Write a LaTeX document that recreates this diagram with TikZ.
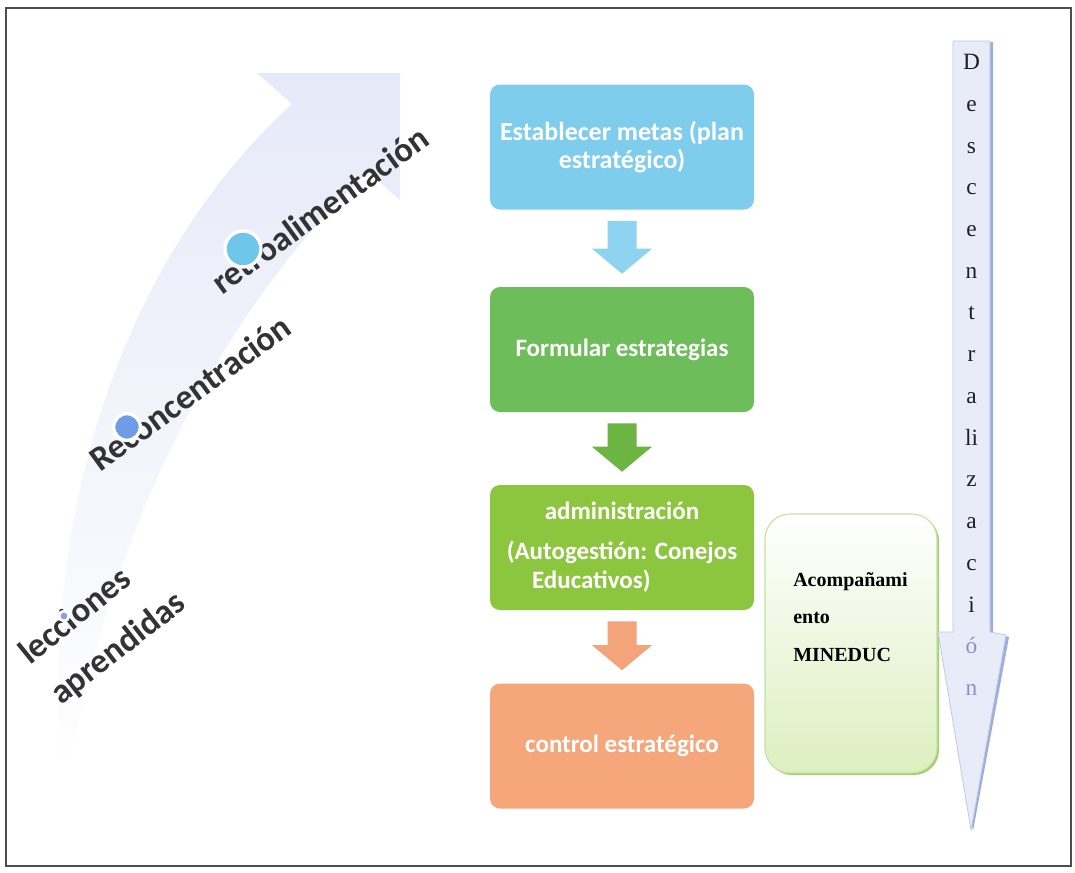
\documentclass[tikz,border=0pt]{standalone}
\usepackage{fontspec}
\setmainfont{Liberation Serif}
\newfontfamily\calfont{Carlito}
\usetikzlibrary{calc}
\definecolor{lav}{HTML}{E6E9F8}
\definecolor{retroc}{HTML}{6EC6EA}
\definecolor{reconc}{HTML}{6F9CE6}
\definecolor{leccc}{HTML}{8C9FE0}
\definecolor{cA}{HTML}{7ECDEC}
\definecolor{aA}{HTML}{8ED3EF}
\definecolor{cB}{HTML}{6DBD5A}
\definecolor{aB}{HTML}{6CB543}
\definecolor{cC}{HTML}{8CC63F}
\definecolor{aC}{HTML}{F4A47B}
\definecolor{cD}{HTML}{F5A77B}
\definecolor{acgreen}{HTML}{DDEFC0}
\definecolor{acborder}{HTML}{C2E29E}
\definecolor{acshadow}{HTML}{A2CE72}
\definecolor{dfill}{HTML}{E8ECF9}
\definecolor{dedge}{HTML}{BFC8E6}
\definecolor{dshadow}{HTML}{9DAEDC}
\definecolor{dletter}{HTML}{8593C6}
\definecolor{framec}{HTML}{4D4D4D}
\tikzset{
  lbl/.style={font=\calfont\bfseries\fontsize{26}{30}\selectfont, text=black!80, inner sep=0pt, anchor=base west},
  dot/.style={circle, draw=white, line width=2.5pt, inner sep=0pt},
  fbox/.style={rounded corners=7.5pt, minimum width=198pt, minimum height=93.75pt, text=white, align=center,
    font=\calfont\bfseries\fontsize{18.75}{21.75}\selectfont, inner sep=0pt},
}
\newcommand\flowarrow[3]{%
  \coordinate (#2s) at ($(#2.south)+(0,11)$);
  \coordinate (#2e) at ($(#3.north)+(0,-13)$);
  \fill[#1] ($(#2s)+(-14.5,0)$) -- ($(#2s)+(14.5,0)$) -- ($(#2e)+(14.5,-25)$) -- ($(#2e)+(30,-25)$)
    -- (#2e) -- ($(#2e)+(-30,-25)$) -- ($(#2e)+(-14.5,-25)$) -- cycle;}
\begin{document}
\begin{tikzpicture}[x=0.75pt,y=-0.75pt]
\useasboundingbox (0,0) rectangle (1075,872);
\fill[white] (0,0) rectangle (1075,872);

% curved wide arrow
\shade[top color=lav, middle color=lav!85!white, bottom color=white]
  (62,775) .. controls (40,540) and (110,270) .. (292,104) -- (257,73) -- (400,73) -- (400,200)
  -- (368,172) .. controls (230,300) and (110,520) .. (68,775) -- cycle;

% labels on the curve
\node[lbl, rotate=36] (t1) at (222,296) {retroalimentación};
\node[lbl, rotate=36] (t2) at (100,473) {Reconcentración};
\node[lbl, rotate=39] (t3) at (30,666) {lecciones};
\node[lbl, rotate=38] (t4) at (61,706) {aprendidas};

% dots
\node[dot, fill=retroc, minimum size=27pt] (d1) at (243,249) {};
\node[dot, fill=reconc, minimum size=20pt] (d2) at (127,427) {};
\node[dot, fill=leccc, minimum size=7.5pt, line width=2pt] (d3) at (64,616) {};

% flowchart
\node[fbox, fill=cA, font=\calfont\bfseries\fontsize{19.5}{21.4}\selectfont] (b1) at (622,147) {Establecer metas (plan\\estratégico)};
\node[fbox, fill=cB] (b2) at (622,349.5) {Formular estrategias};
\node[fbox, fill=cC] (b3) at (622,547.5) {administración\\[8.25pt](Autogestión: Conejos\\Educativos)\hspace*{46pt}};
\node[fbox, fill=cD] (b4) at (622,746) {control estratégico};
\flowarrow{aA}{b1}{b2}
\flowarrow{aB}{b2}{b3}
\flowarrow{aC}{b3}{b4}

% Acompanamiento box
\fill[acshadow, rounded corners=18.75pt] (767,516) rectangle (939,775);
\node[draw=acborder, line width=0.8pt, top color=white, bottom color=acgreen, rounded corners=18.75pt,
  minimum width=129pt, minimum height=194.25pt, inner sep=0pt] (acomp) at (851,643.5) {};
\node[font=\bfseries\fontsize{15}{28}\selectfont, align=left, anchor=west, inner sep=0pt] (acompt) at (793,617)
  {Acompañami\\ento\\MINEDUC};

% Descentralizacion arrow
\fill[dshadow] (956,42) -- (993,42) -- (993,633) -- (1009,637) -- (973,831) -- (941,633) -- (956,633) -- cycle;
\filldraw[fill=dfill, draw=dedge, line width=0.6pt]
  (953,41) -- (990,41) -- (990,632) -- (1006,635) -- (971,830) -- (938,632) -- (953,632) -- cycle;
\node[font=\fontsize{17.5}{31.3}\selectfont, align=center, anchor=north, inner sep=0pt, text=black!88] (desc) at (971.5,54)
  {D\\e\\s\\c\\e\\n\\t\\r\\a\\li\\z\\a\\c\\i\\\textcolor{dletter}{ó}\\\textcolor{dletter}{n}};

% frame
\draw[framec, line width=1pt] (6,8) rectangle (1071,866);
\end{tikzpicture}
\end{document}
